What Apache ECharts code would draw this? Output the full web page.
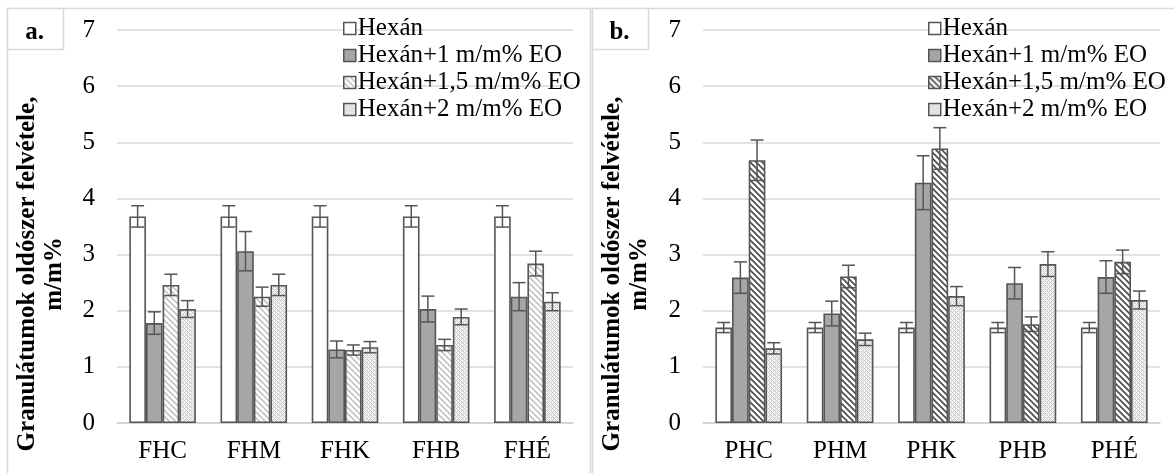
<!DOCTYPE html>
<html>
<head>
<meta charset="utf-8">
<script src="https://cdn.jsdelivr.net/npm/echarts@6/dist/echarts.min.js"></script>
<style>
html,body{margin:0;padding:0;background:#fff;}
#c{width:1174px;height:473px;}
</style>
</head>
<body>
<div id="c"></div>
<script>
// ---- data ----
const seriesNames = ['Hexán', 'Hexán+1 m/m% EO', 'Hexán+1,5 m/m% EO', 'Hexán+2 m/m% EO'];
const yTicks = [0, 1, 2, 3, 4, 5, 6, 7];

const categoriesA = ['FHC', 'FHM', 'FHK', 'FHB', 'FHÉ'];
const hexanA   = [3.68, 3.68, 3.68, 3.68, 3.68];
const eo1A     = [1.78, 3.06, 1.31, 2.03, 2.25];
const eo15A    = [2.46, 2.25, 1.30, 1.39, 2.84];
const eo2A     = [2.03, 2.46, 1.35, 1.89, 2.16];
const hexanErrA = [0.19, 0.19, 0.19, 0.19, 0.19];
const eo1ErrA   = [0.20, 0.35, 0.15, 0.23, 0.25];
const eo15ErrA  = [0.19, 0.17, 0.09, 0.10, 0.22];
const eo2ErrA   = [0.15, 0.19, 0.10, 0.14, 0.16];

const categoriesB = ['PHC', 'PHM', 'PHK', 'PHB', 'PHÉ'];
const hexanB   = [1.70, 1.70, 1.70, 1.70, 1.70];
const eo1B     = [2.59, 1.95, 4.28, 2.49, 2.60];
const eo15B    = [4.68, 2.61, 4.89, 1.76, 2.87];
const eo2B     = [1.33, 1.49, 2.26, 2.83, 2.19];
const hexanErrB = [0.09, 0.09, 0.09, 0.09, 0.09];
const eo1ErrB   = [0.28, 0.22, 0.48, 0.28, 0.29];
const eo15ErrB  = [0.36, 0.20, 0.37, 0.13, 0.21];
const eo2ErrB   = [0.10, 0.11, 0.17, 0.22, 0.16];

// ---- styling helpers ----
const FONT = '"Liberation Serif","Times New Roman",serif';
const FS = 25;
const EDGE = '#555555';

function stripes(color) {
  const s = 6, c = document.createElement('canvas');
  c.width = s; c.height = s;
  const g = c.getContext('2d');
  g.fillStyle = '#fff'; g.fillRect(0, 0, s, s);
  g.strokeStyle = color; g.lineWidth = 1.6;
  g.beginPath();
  g.moveTo(-1, -1); g.lineTo(s + 1, s + 1);
  g.moveTo(-1, s - 1); g.lineTo(1, s + 1);
  g.moveTo(s - 1, -1); g.lineTo(s + 1, 1);
  g.stroke();
  return { image: c, repeat: 'repeat' };
}
function hatch(color) {
  const s = 4, c = document.createElement('canvas');
  c.width = s; c.height = s;
  const g = c.getContext('2d');
  g.fillStyle = '#f4f4f4'; g.fillRect(0, 0, s, s);
  g.fillStyle = color;
  g.fillRect(0, 0, 1, 1); g.fillRect(2, 2, 1, 1);
  g.fillRect(1, 1, 1, 1); g.fillRect(3, 3, 1, 1);
  g.fillRect(3, 1, 1, 1); g.fillRect(1, 3, 1, 1);
  return { image: c, repeat: 'repeat' };
}
const fillsA = ['#ffffff', '#a6a6a6', stripes('#c4c4c4'), hatch('#c8c8c8')];
const fillsB = ['#ffffff', '#a6a6a6', stripes('#4a4a4a'), hatch('#c8c8c8')];

const GAP = 0.27;
function errRender(idx) {
  return function (params, api) {
    const ci = api.value(0), v = api.value(1), e = api.value(2);
    const c = api.coord([ci, v]);
    const band = api.size([1, 0])[0];
    const bw = band * (1 - GAP) / 4;
    const x = c[0] - 2 * bw + (idx + 0.5) * bw;
    const top = api.coord([ci, v + e])[1];
    const bot = api.coord([ci, v - e])[1];
    const cap = 6.5;
    const st = { stroke: EDGE, lineWidth: 1.5, fill: null };
    return {
      type: 'group',
      children: [
        { type: 'line', shape: { x1: x, y1: top, x2: x, y2: bot }, style: st },
        { type: 'line', shape: { x1: x - cap, y1: top, x2: x + cap, y2: top }, style: st },
        { type: 'line', shape: { x1: x - cap, y1: bot, x2: x + cap, y2: bot }, style: st }
      ]
    };
  };
}

function panelSeries(k, vals, errs, fills) {
  const out = [];
  vals.forEach((arr, i) => {
    out.push({
      name: seriesNames[i], type: 'bar', xAxisIndex: k, yAxisIndex: k,
      data: arr, barGap: '0%', barCategoryGap: (GAP * 100) + '%',
      itemStyle: { color: fills[i], borderColor: EDGE, borderWidth: 1.6 },
      emphasis: { disabled: true }, z: 2
    });
  });
  errs.forEach((arr, i) => {
    out.push({
      name: 'err' + k + '_' + i, type: 'custom', xAxisIndex: k, yAxisIndex: k,
      renderItem: errRender(i), encode: { x: 0, y: 1 },
      data: arr.map((e, j) => [j, vals[i][j], e]), z: 5, silent: true
    });
  });
  return out;
}

function xAxis(k, cats) {
  return {
    type: 'category', gridIndex: k, data: cats,
    axisLine: { lineStyle: { color: '#d0d0d0', width: 1.5 } },
    axisTick: { show: false },
    axisLabel: { color: '#000', fontFamily: FONT, fontSize: FS, margin: 16 }
  };
}
function yAxis(k) {
  return {
    type: 'value', gridIndex: k, min: yTicks[0], max: yTicks[yTicks.length - 1], interval: 1,
    axisLine: { show: false }, axisTick: { show: false },
    splitLine: { lineStyle: { color: '#d9d9d9', width: 1.5 } },
    axisLabel: { color: '#000', fontFamily: FONT, fontSize: FS, margin: 22 }
  };
}
function legend(left, fills) {
  return {
    orient: 'vertical', left: left, top: 11, itemWidth: 12, itemHeight: 12, itemGap: 2,
    icon: 'rect', selectedMode: false,
    textStyle: { color: '#000', fontFamily: FONT, fontSize: FS, padding: [0, 0, 0, -3] },
    data: seriesNames.map((n, i) => ({ name: n, itemStyle: { color: fills[i], borderColor: EDGE, borderWidth: 1.5 } }))
  };
}
function yTitle(x) {
  return {
    type: 'text', x: x, y: 274, rotation: Math.PI / 2,
    style: {
      text: 'Granulátumok oldószer felvétele,\nm/m%', fill: '#000',
      font: 'bold 25px ' + FONT, align: 'center', verticalAlign: 'middle', lineHeight: 27
    }
  };
}
function panelBox(x, w, label) {
  return [
    { type: 'rect', shape: { x: x, y: 8.5, width: w, height: 480 }, style: { fill: null, stroke: '#d9d9d9', lineWidth: 1.5 }, z: -1 },
    { type: 'rect', shape: { x: x, y: 8.5, width: 56, height: 41 }, style: { fill: '#fff', stroke: '#d9d9d9', lineWidth: 1.5 }, z: -1 },
    { type: 'text', x: x + 27, y: 33, style: { text: label, fill: '#000', font: 'bold 25px ' + FONT, align: 'center', verticalAlign: 'middle' } }
  ];
}

const chart = echarts.init(document.getElementById('c'), null, { renderer: 'canvas' });
chart.setOption({
  animation: false,
  backgroundColor: '#fff',
  grid: [
    { left: 117, top: 30, width: 456, height: 393 },
    { left: 703, top: 30, width: 457, height: 393 }
  ],
  xAxis: [xAxis(0, categoriesA), xAxis(1, categoriesB)],
  yAxis: [yAxis(0), yAxis(1)],
  legend: [legend(338, fillsA), legend(923, fillsB)],
  graphic: [].concat(
    panelBox(7.5, 583, 'a.'),
    panelBox(592.5, 590, 'b.'),
    [yTitle(41), yTitle(626)]
  ),
  series: [].concat(
    panelSeries(0, [hexanA, eo1A, eo15A, eo2A], [hexanErrA, eo1ErrA, eo15ErrA, eo2ErrA], fillsA),
    panelSeries(1, [hexanB, eo1B, eo15B, eo2B], [hexanErrB, eo1ErrB, eo15ErrB, eo2ErrB], fillsB)
  )
});
</script>
</body>
</html>
